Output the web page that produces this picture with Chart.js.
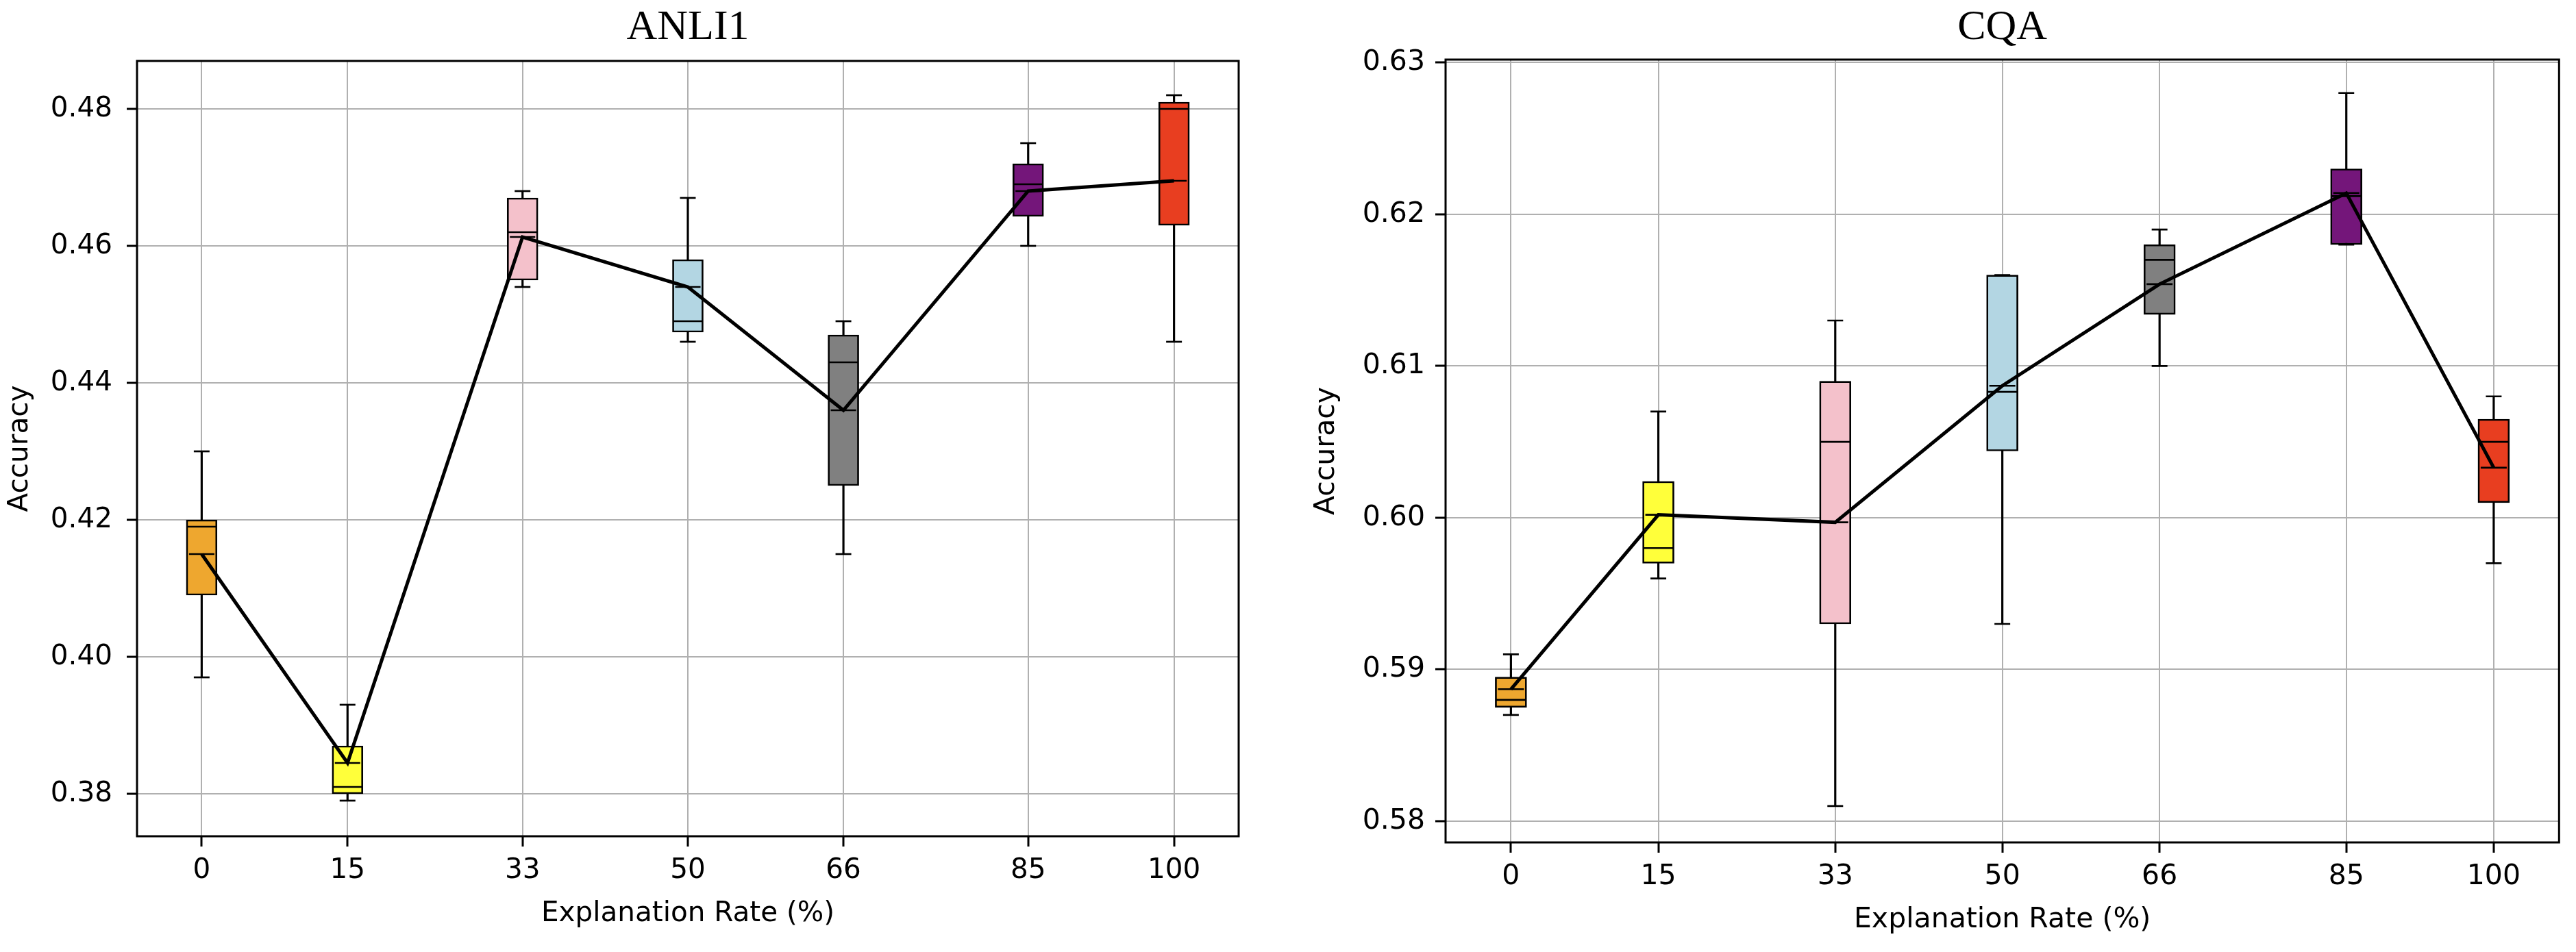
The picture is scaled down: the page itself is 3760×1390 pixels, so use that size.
<!DOCTYPE html>
<html>
<head>
<meta charset="utf-8">
<script src="https://cdn.jsdelivr.net/npm/chart.js@4.4.1/dist/chart.umd.min.js"></script>
<style>
  html, body { margin: 0; padding: 0; background: #fff; overflow: hidden; width: 3760px; height: 1390px; }
  canvas { position: absolute; top: 0; }
  #anli { left: 0; }
  #cqa { left: 1880px; }
</style>
</head>
<body>
<canvas id="anli" width="1850" height="1390"></canvas>
<canvas id="cqa" width="1880" height="1390"></canvas>
<script>
// explanation rates (x positions of the boxes)
const rates = [0, 15, 33, 50, 66, 85, 100];
const boxColors = ['#EEA72F', '#FFFF3A', '#F4C1CB', '#B3D6E3', '#808080', '#74167A', '#E83E20'];

// ANLI1
const anliLow    = [0.397, 0.379, 0.454, 0.446, 0.415, 0.460, 0.446];
const anliQ1     = [0.409, 0.380, 0.455, 0.4474, 0.425, 0.4643, 0.463];
const anliMedian = [0.419, 0.381, 0.462, 0.449, 0.443, 0.469, 0.480];
const anliMean   = [0.415, 0.3845, 0.4613, 0.454, 0.436, 0.468, 0.4695];
const anliQ3     = [0.420, 0.387, 0.467, 0.458, 0.447, 0.472, 0.481];
const anliHigh   = [0.430, 0.393, 0.468, 0.467, 0.449, 0.475, 0.482];
const anliYTicks = [0.38, 0.40, 0.42, 0.44, 0.46, 0.48];

// CQA
const cqaLow    = [0.587, 0.596, 0.581, 0.593, 0.610, 0.618, 0.597];
const cqaQ1     = [0.5875, 0.597, 0.593, 0.6044, 0.6134, 0.618, 0.601];
const cqaMedian = [0.588, 0.598, 0.605, 0.6083, 0.617, 0.6212, 0.605];
const cqaMean   = [0.5887, 0.6002, 0.5997, 0.6087, 0.6154, 0.6214, 0.6033];
const cqaQ3     = [0.5895, 0.6024, 0.609, 0.616, 0.618, 0.623, 0.6065];
const cqaHigh   = [0.591, 0.607, 0.613, 0.616, 0.619, 0.628, 0.608];
const cqaYTicks = [0.58, 0.59, 0.60, 0.61, 0.62, 0.63];

Chart.defaults.font.family = "'DejaVu Sans'";
Chart.defaults.color = '#000';

// black box around the plot area, like matplotlib spines
const frame = {
    id: 'frame',
    afterDraw(chart) {
        const { ctx, chartArea: a } = chart;
        ctx.save();
        ctx.strokeStyle = '#000';
        ctx.lineWidth = 3;
        ctx.strokeRect(a.left, a.top, a.right - a.left, a.bottom - a.top);
        ctx.restore();
    }
};

const pairs = (ys) => rates.map((x, i) => ({ x: x, y: ys[i] }));
const spans = (lo, hi) => rates.map((x, i) => ({ x: x, y: [lo[i], hi[i]] }));

function drawBoxChart(id, s) {
    const grid = { color: '#b0b0b0', lineWidth: 2, tickColor: '#000', tickWidth: 3, tickLength: 15, offset: false };
    return new Chart(document.getElementById(id), {
        type: 'bar',
        data: {
            datasets: [
                { // line through the means
                    type: 'line', data: pairs(s.mean), borderColor: '#000', borderWidth: 5,
                    pointRadius: 0, tension: 0, order: 0
                },
                { // medians
                    type: 'scatter', data: pairs(s.median), pointStyle: 'line',
                    pointRadius: s.boxPx / 2 - 1, pointBorderWidth: 2.7, pointBorderColor: '#000', order: 1
                },
                { // means
                    type: 'scatter', data: pairs(s.mean), pointStyle: 'line',
                    pointRadius: s.boxPx / 2 - 4, pointBorderWidth: 2.7, pointBorderColor: '#000', order: 1
                },
                { // whisker caps
                    type: 'scatter', data: pairs(s.low).concat(pairs(s.high)), pointStyle: 'line',
                    pointRadius: 11.5, pointBorderWidth: 2.7, pointBorderColor: '#000', order: 3
                },
                { // boxes
                    data: spans(s.q1, s.q3), backgroundColor: boxColors, borderColor: '#000',
                    borderWidth: 2.7, borderSkipped: false, barThickness: s.boxPx, grouped: false, order: 2
                },
                { // whiskers
                    data: spans(s.low, s.high), backgroundColor: '#000', borderWidth: 0,
                    barThickness: 2.5, grouped: false, order: 4
                }
            ]
        },
        options: {
            responsive: false,
            devicePixelRatio: 1,
            animation: false,
            events: [],
            layout: { padding: { left: 0, right: s.padRight, top: 0, bottom: 0 } },
            plugins: {
                legend: { display: false },
                tooltip: { enabled: false },
                title: {
                    display: true, text: s.title, fullSize: false, color: '#000',
                    font: { family: "'Liberation Serif'", size: 62, weight: 'normal', lineHeight: 1.2 },
                    padding: { top: s.titleTop, bottom: s.titleBottom }
                }
            },
            scales: {
                x: {
                    type: 'linear', min: -6.65, max: 106.65, offset: false,
                    afterBuildTicks: sc => { sc.ticks = rates.map(v => ({ value: v })); },
                    afterFit: sc => { sc.height = s.xAxisH; },
                    grid: grid,
                    border: { display: false },
                    ticks: { font: { size: s.font }, color: '#000', padding: s.xPad, maxRotation: 0, autoSkip: false },
                    title: {
                        display: true, text: 'Explanation Rate (%)', color: '#000',
                        font: { size: s.font }, padding: { top: 0, bottom: s.xTitlePad }
                    }
                },
                y: {
                    type: 'linear', min: s.yMin, max: s.yMax,
                    afterBuildTicks: sc => { sc.ticks = s.yTicks.map(v => ({ value: v })); },
                    afterFit: sc => { sc.width = s.yAxisW; },
                    grid: grid,
                    border: { display: false },
                    ticks: { font: { size: s.font }, color: '#000', padding: s.yPad, callback: v => v.toFixed(2) },
                    title: {
                        display: true, text: 'Accuracy', color: '#000',
                        font: { size: s.font }, padding: { top: s.yTitlePad, bottom: 0 }
                    }
                }
            }
        },
        plugins: [frame]
    });
}

drawBoxChart('anli', {
    title: 'ANLI1', low: anliLow, q1: anliQ1, median: anliMedian, mean: anliMean, q3: anliQ3, high: anliHigh,
    yTicks: anliYTicks, yMin: 0.3738, yMax: 0.4870,
    titleTop: 3.8, titleBottom: 10.8, yAxisW: 200, xAxisH: 169, padRight: 42,
    font: 40.5, xPad: 11, xTitlePad: 31.7, yPad: 21, yTitlePad: 4.7, boxPx: 45
});

drawBoxChart('cqa', {
    title: 'CQA', low: cqaLow, q1: cqaQ1, median: cqaMedian, mean: cqaMean, q3: cqaQ3, high: cqaHigh,
    yTicks: cqaYTicks, yMin: 0.5786, yMax: 0.6302,
    titleTop: 3.6, titleBottom: 9, yAxisW: 230, xAxisH: 160, padRight: 24,
    font: 41, xPad: 11, xTitlePad: 22.4, yPad: 15, yTitlePad: 31.4, boxPx: 46
});
</script>
</body>
</html>
